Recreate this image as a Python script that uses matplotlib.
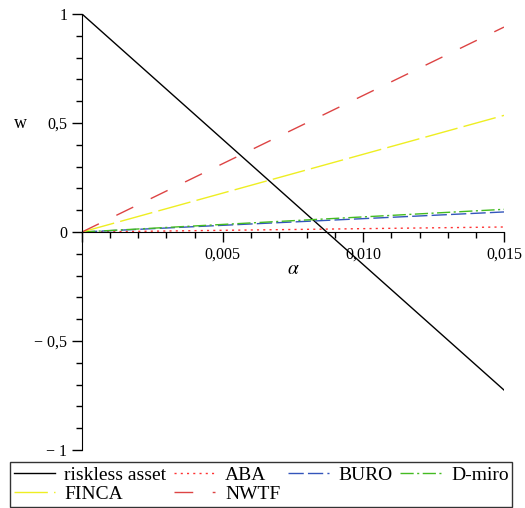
import matplotlib.pyplot as plt
from matplotlib.ticker import MultipleLocator, FuncFormatter

plt.rcParams['font.family'] = ['Liberation Serif', 'DejaVu Serif']
plt.rcParams['mathtext.fontset'] = 'stix'

# portfolio weights w(alpha) -- straight lines, read at both ends
alpha = [0.0, 0.015]
riskless = [1.0, -0.725]
aba = [0.0, 0.023]
buro = [0.0, 0.092]
dmiro = [0.0, 0.104]
finca = [0.0, 0.535]
nwtf = [0.0, 0.94]

fig = plt.figure(figsize=(5.25, 5.08), dpi=100)
ax = fig.add_axes([82/525, 1 - 450/508, 422/525, 436/508])

l_risk, = ax.plot(alpha, riskless, color='black', lw=1.0)
l_aba, = ax.plot(alpha, aba, color='#ff3333', lw=1.0, dashes=(1.5, 3))
l_buro, = ax.plot(alpha, buro, color='#3355bb', lw=1.0, dashes=(11, 3))
l_dmiro, = ax.plot(alpha, dmiro, color='#44bb22', lw=1.0, dashes=(9.5, 2.5, 1.5, 2.5))
l_finca, = ax.plot(alpha, finca, color='#eeee22', lw=1.0, dashes=(24, 4.5))
l_nwtf, = ax.plot(alpha, nwtf, color='#dd4444', lw=1.0, dashes=(13.5, 14))

ax.set_xlim(0, 0.015)
ax.set_ylim(-1, 1)

for s in ['top', 'right']:
    ax.spines[s].set_visible(False)
ax.spines['bottom'].set_position(('data', 0))
ax.spines['left'].set_position(('data', 0))

ax.xaxis.set_major_locator(MultipleLocator(0.005))
ax.xaxis.set_minor_locator(MultipleLocator(0.001))
ax.yaxis.set_major_locator(MultipleLocator(0.5))
ax.yaxis.set_minor_locator(MultipleLocator(0.1))

def fmt_x(v, pos):
    if abs(v) < 1e-12:
        return ''
    return f'{v:.3f}'.replace('.', ',')

def fmt_y(v, pos):
    if abs(v) < 1e-12:
        return '0'
    s = f'{abs(v):g}'.replace('.', ',')
    return ('\u2212 ' + s) if v < 0 else s

ax.xaxis.set_major_formatter(FuncFormatter(fmt_x))
ax.yaxis.set_major_formatter(FuncFormatter(fmt_y))
ax.tick_params(axis='both', which='major', direction='out', length=7, width=1, labelsize=11.5)
ax.tick_params(axis='both', which='minor', direction='out', length=4, width=1)

fig.text(20/525, 1 - 124/508, 'w', fontsize=13, ha='center', va='center')
fig.text(293/525, 1 - 270/508, r'$\alpha$', fontsize=14, ha='center', va='center')

# order so that the rows read: riskless, ABA, BURO, D-miro / FINCA, NWTF
handles = [l_risk, l_finca, l_aba, l_nwtf, l_buro, l_dmiro]
labels = ['riskless asset', 'FINCA', 'ABA', 'NWTF', 'BURO', 'D-miro']
leg = fig.legend(handles, labels, ncol=4, loc='upper left',
                 bbox_to_anchor=(10/525, 1 - 462/508), fontsize=14,
                 frameon=True, fancybox=False, edgecolor='black',
                 handlelength=2.1, handletextpad=0.5, columnspacing=0.4,
                 labelspacing=0.1, borderpad=0.2, borderaxespad=0)
leg.get_frame().set_linewidth(1.0)

plt.savefig('out.png', dpi=100)
